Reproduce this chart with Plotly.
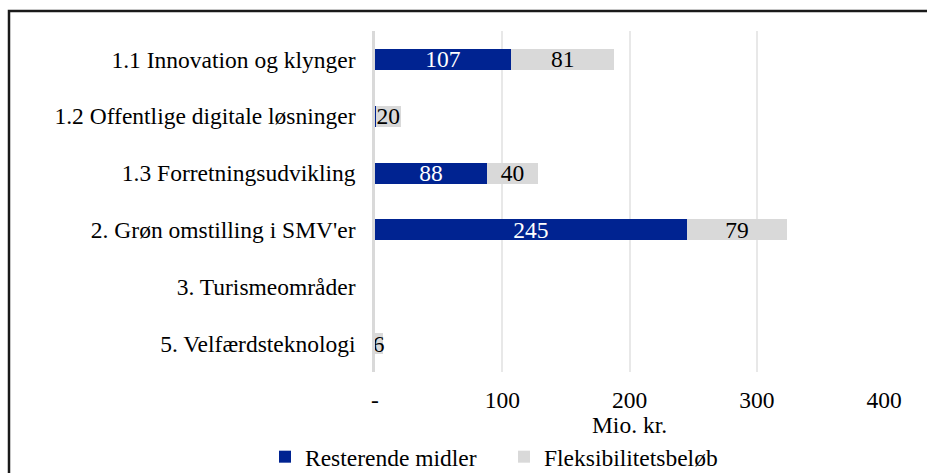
import plotly.graph_objects as go

categories = [
    "1.1 Innovation og klynger",
    "1.2 Offentlige digitale løsninger",
    "1.3 Forretningsudvikling",
    "2. Grøn omstilling i SMV'er",
    "3. Turismeområder",
    "5. Velfærdsteknologi",
]
resterende = [107, 0.5, 88, 245, 0, 0]
fleksibilitet = [81, 20, 40, 79, 0, 6]
x_tickvals = [0, 100, 200, 300, 400]
x_ticktext = ["-", "100", "200", "300", "400"]

FONT = "'Liberation Serif', 'Times New Roman', serif"
FS = 23.5


def labels(vals):
    return [f"{v:.0f}" if v >= 1 else "" for v in vals]


fig = go.Figure()
fig.add_trace(go.Bar(
    y=categories, x=resterende, orientation="h", name="Resterende midler",
    marker=dict(color="#002391", line=dict(width=0)),
    text=labels(resterende), textposition="inside", insidetextanchor="middle",
    textangle=0,
    textfont=dict(color="white", family=FONT, size=FS),
    hoverinfo="x+name", legend="legend",
))
fig.add_trace(go.Bar(
    y=categories, x=fleksibilitet, orientation="h", name="Fleksibilitetsbeløb",
    marker=dict(color="#d9d9d9", line=dict(width=0)),
    text=labels(fleksibilitet), textposition="inside", insidetextanchor="middle",
    textangle=0,
    textfont=dict(color="black", family=FONT, size=FS),
    hoverinfo="x+name", legend="legend2",
))

leg_common = dict(orientation="h", y=-0.249, yanchor="middle",
                  font=dict(family=FONT, size=FS), itemwidth=30,
                  bgcolor="rgba(0,0,0,0)")

fig.update_layout(
    width=927, height=473,
    margin=dict(l=375, r=43, t=31, b=101, autoexpand=False),
    barmode="stack", bargap=0.63,
    paper_bgcolor="white", plot_bgcolor="white",
    font=dict(family=FONT, size=FS, color="black"),
    uniformtext=dict(mode="show", minsize=FS),
    showlegend=True,
    legend=dict(x=(265 - 375) / 509, xanchor="left", **leg_common),
    legend2=dict(x=(504 - 375) / 509, xanchor="left", **leg_common),
    xaxis=dict(range=[0, 400], tickvals=x_tickvals, ticktext=x_ticktext,
               showgrid=True, gridcolor="#e8e8e8", gridwidth=1.5, zeroline=False,
               showline=False, ticks="", ticklabelstandoff=11,
               title=dict(text="Mio. kr.", standoff=0, font=dict(family=FONT, size=FS)),
               automargin=False, fixedrange=True),
    yaxis=dict(autorange="reversed", showline=True, linecolor="#d9d9d9", linewidth=2.5,
               ticks="", ticklabelstandoff=12, showgrid=False, automargin=False,
               fixedrange=True),
    shapes=[dict(type="rect", xref="paper", yref="paper",
                 x0=(9 - 375) / 509, x1=(940 - 375) / 509,
                 y0=(372 - 490) / 341, y1=(372 - 11) / 341,
                 line=dict(color="#1a1a1a", width=2.5), fillcolor="rgba(0,0,0,0)",
                 layer="above")],
)

fig.write_html("out.html", config={"displayModeBar": False},
               post_script="document.body.style.margin='0';document.body.style.overflow='hidden';")
